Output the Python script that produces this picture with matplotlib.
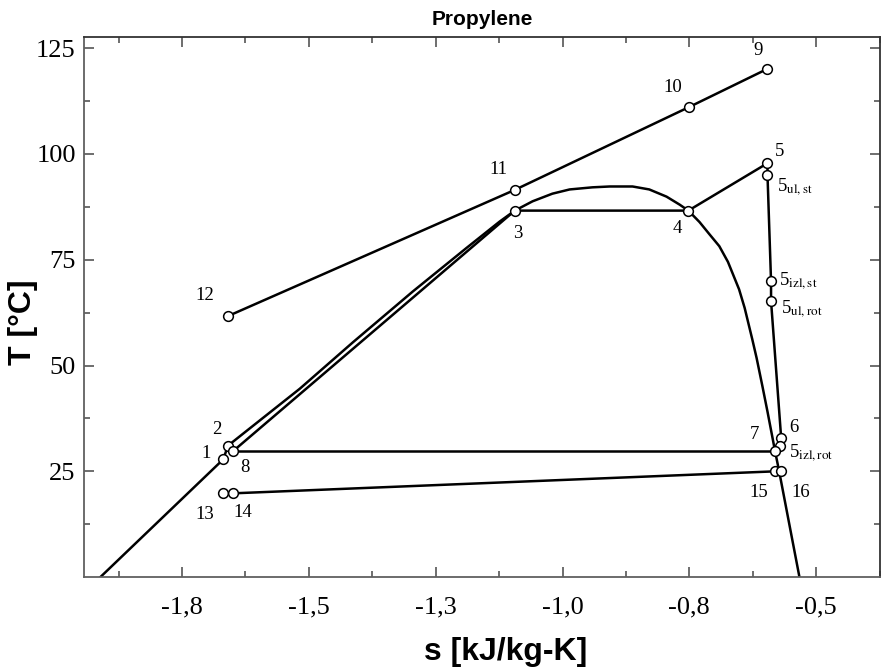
import matplotlib
matplotlib.use("Agg")
import matplotlib.pyplot as plt
import numpy as np

plt.rcParams['mathtext.fontset'] = 'stix'

# state points
point_names = ["1", "2", "3", "4", "5", "5ul,st", "5izl,st", "5ul,rot", "6", "5izl,rot",
               "7", "8", "9", "10", "11", "12", "13", "14", "15", "16"]
point_s = [-1.669, -1.659, -1.094, -0.752, -0.596, -0.596, -0.589, -0.589, -0.569, -0.571,
           -0.581, -1.650, -0.596, -0.750, -1.094, -1.659, -1.669, -1.650, -0.581, -0.569]
point_T = [27.8, 31.1, 86.6, 86.6, 97.8, 95.0, 69.9, 65.2, 32.8, 30.9,
           29.7, 29.7, 120.1, 111.1, 91.5, 61.7, 19.8, 19.8, 25.0, 25.0]

# saturation dome
dome_s = [-1.911, -1.669, -1.659, -1.518, -1.413, -1.295, -1.189, -1.124, -1.094,
          -1.059, -1.020, -0.986, -0.941, -0.907, -0.862, -0.829, -0.795, -0.769, -0.752,
          -0.730, -0.711, -0.691, -0.674, -0.652, -0.641, -0.626, -0.6175, -0.606, -0.596,
          -0.581, -0.573, -0.533]
dome_T = [0.0, 27.8, 31.1, 44.5, 55.5, 67.5, 77.8, 84.0, 86.6,
          88.8, 90.6, 91.6, 92.1, 92.3, 92.3, 91.6, 89.9, 88.0, 86.6,
          83.9, 81.1, 78.2, 74.5, 68.0, 63.6, 56.2, 51.8, 45.1, 39.1,
          29.7, 25.0, 0.0]

# process lines, given as sequences of state points
paths = [["8", "3"], ["3", "4", "5"], ["5", "5ul,st", "5izl,st", "5ul,rot", "6"],
         ["8", "7"], ["14", "15"], ["12", "11", "10", "9"]]

x_ticks = [-1.75, -1.5, -1.25, -1.0, -0.75, -0.5]
x_tick_labels = ["-1,8", "-1,5", "-1,3", "-1,0", "-0,8", "-0,5"]
y_ticks = [25, 50, 75, 100, 125]

# label offsets in points (subscripted labels are left aligned)
offsets = {"1": (-12, 4), "2": (-8.5, 11.5), "3": (2, -16.5), "4": (-8, -13),
           "5": (8.5, 8.5), "5ul,st": (6.5, -9), "5izl,st": (6, 0), "5ul,rot": (7.5, -6),
           "6": (9, 8), "5izl,rot": (6.5, -5), "7": (-15, 12), "8": (8.5, -11.5),
           "9": (-7, 13), "10": (-12, 14), "11": (-11.5, 14.5), "12": (-16.5, 14.5),
           "13": (-13, -15), "14": (7, -14), "15": (-11.5, -15), "16": (14, -15)}

pts = dict(zip(point_names, zip(point_s, point_T)))

fig = plt.figure(figsize=(8.85, 6.68), dpi=100)
ax = fig.add_axes([0.095, 0.136, 0.8995, 0.8085])

lw = 1.8
ax.plot(dome_s, dome_T, color="black", lw=lw, zorder=2)
for p in paths:
    ax.plot([pts[n][0] for n in p], [pts[n][1] for n in p], color="black", lw=lw, zorder=2)

ax.plot(point_s, point_T, linestyle="none", marker="o", ms=7, mfc="white",
        mec="black", mew=1.1, zorder=3)

for n in point_names:
    if "," in n:
        txt = "5$_\\mathrm{" + n[1:] + "}$"
        ha = "left"
    else:
        txt = n
        ha = "center"
    ax.annotate(txt, pts[n], xytext=offsets[n], textcoords="offset points",
                ha=ha, va="center", fontsize=13.5, family="Liberation Serif")

ax.set_xlim(-1.943, -0.374)
ax.set_ylim(0, 127.6)
ax.set_xticks(x_ticks)
ax.set_xticklabels(x_tick_labels)
ax.set_yticks(y_ticks)
ax.set_xticks(np.arange(-1.875, -0.37, 0.125), minor=True)
ax.set_yticks(np.arange(12.5, 127, 12.5), minor=True)
ax.tick_params(which="both", direction="in", top=True, right=True,
               labelsize=19, color="#555555")
ax.tick_params(which="major", length=7, width=1.2)
ax.tick_params(which="minor", length=4, width=1.2)
ax.tick_params(axis="x", which="major", pad=14)
ax.tick_params(axis="y", which="major", pad=6)
for lab in ax.get_xticklabels() + ax.get_yticklabels():
    lab.set_family("Liberation Serif")
for side in ["left", "bottom"]:
    ax.spines[side].set_color("#606060")
for side in ["top", "right"]:
    ax.spines[side].set_color("#333333")
for sp in ax.spines.values():
    sp.set_linewidth(1.3)

ax.set_xlabel("s [kJ/kg-K]", fontsize=23, fontweight="bold", family="Liberation Sans")
ax.set_ylabel("T [°C]", fontsize=23, fontweight="bold", family="Liberation Sans")
ax.xaxis.set_label_coords(0.529, -0.111)
ax.yaxis.set_label_coords(-0.058, 0.472)
ax.set_title("Propylene", fontsize=15, fontweight="bold", family="Liberation Sans", pad=9)

fig.savefig("out.png", dpi=100)
